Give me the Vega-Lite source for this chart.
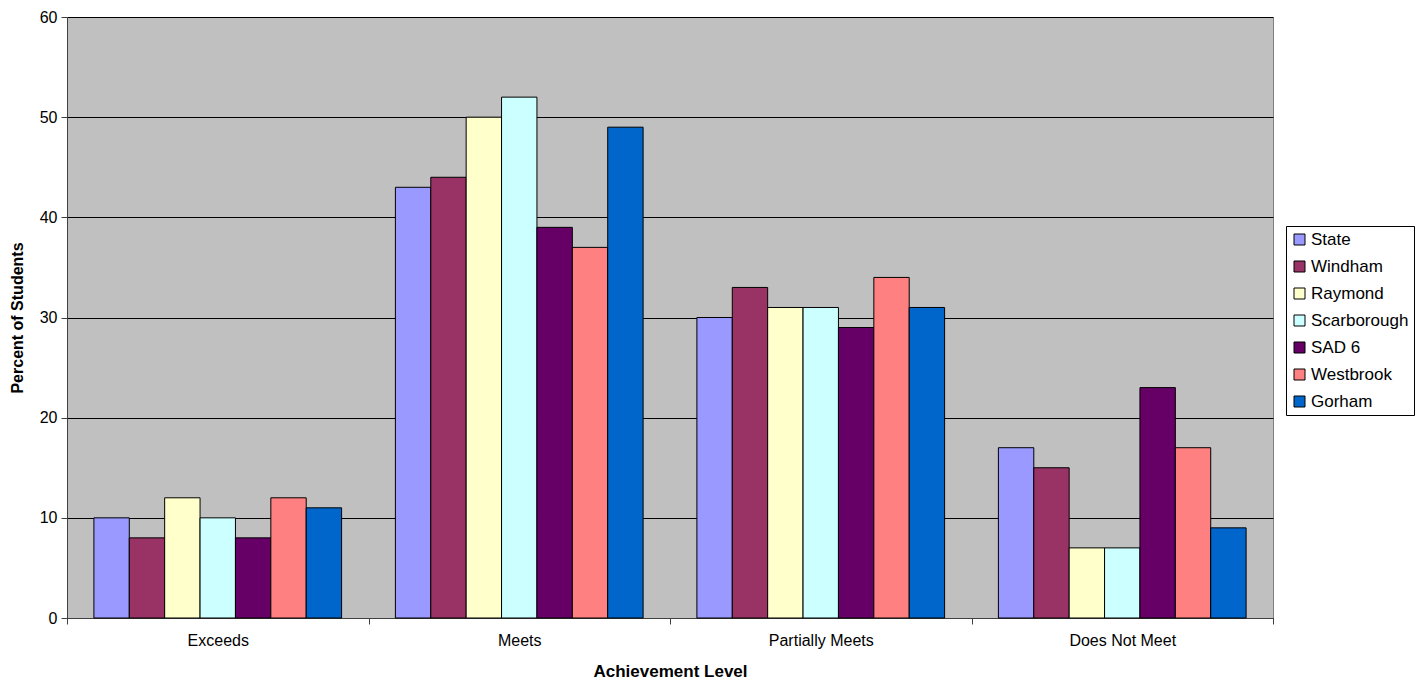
{
  "$schema": "https://vega.github.io/schema/vega-lite/v6.json",
  "width": 1206,
  "height": 601,
  "autosize": {"type": "none"},
  "padding": {"left": 67, "top": 17, "right": 155, "bottom": 67},
  "background": "white",
  "config": {
    "font": "Liberation Sans",
    "view": {"fill": "#C0C0C0", "stroke": "#808080", "strokeWidth": 1}
  },
  "data": {
    "values": [
      {"level": "Exceeds", "school": "State", "pct": 10},
      {"level": "Exceeds", "school": "Windham", "pct": 8},
      {"level": "Exceeds", "school": "Raymond", "pct": 12},
      {"level": "Exceeds", "school": "Scarborough", "pct": 10},
      {"level": "Exceeds", "school": "SAD 6", "pct": 8},
      {"level": "Exceeds", "school": "Westbrook", "pct": 12},
      {"level": "Exceeds", "school": "Gorham", "pct": 11},
      {"level": "Meets", "school": "State", "pct": 43},
      {"level": "Meets", "school": "Windham", "pct": 44},
      {"level": "Meets", "school": "Raymond", "pct": 50},
      {"level": "Meets", "school": "Scarborough", "pct": 52},
      {"level": "Meets", "school": "SAD 6", "pct": 39},
      {"level": "Meets", "school": "Westbrook", "pct": 37},
      {"level": "Meets", "school": "Gorham", "pct": 49},
      {"level": "Partially Meets", "school": "State", "pct": 30},
      {"level": "Partially Meets", "school": "Windham", "pct": 33},
      {"level": "Partially Meets", "school": "Raymond", "pct": 31},
      {"level": "Partially Meets", "school": "Scarborough", "pct": 31},
      {"level": "Partially Meets", "school": "SAD 6", "pct": 29},
      {"level": "Partially Meets", "school": "Westbrook", "pct": 34},
      {"level": "Partially Meets", "school": "Gorham", "pct": 31},
      {"level": "Does Not Meet", "school": "State", "pct": 17},
      {"level": "Does Not Meet", "school": "Windham", "pct": 15},
      {"level": "Does Not Meet", "school": "Raymond", "pct": 7},
      {"level": "Does Not Meet", "school": "Scarborough", "pct": 7},
      {"level": "Does Not Meet", "school": "SAD 6", "pct": 23},
      {"level": "Does Not Meet", "school": "Westbrook", "pct": 17},
      {"level": "Does Not Meet", "school": "Gorham", "pct": 9}
    ]
  },
  "mark": {"type": "bar", "stroke": "black", "strokeWidth": 1},
  "encoding": {
    "x": {
      "field": "level",
      "type": "nominal",
      "sort": ["Exceeds", "Meets", "Partially Meets", "Does Not Meet"],
      "scale": {"paddingInner": 0, "paddingOuter": 0},
      "axis": {
        "title": "Achievement Level",
        "labelAngle": 0,
        "tickBand": "extent",
        "labelFontSize": 16,
        "labelColor": "black",
        "labelPadding": 8,
        "titleFontSize": 17,
        "titleFontWeight": "bold",
        "titleColor": "black",
        "titlePadding": 15,
        "domainColor": "#404040",
        "tickColor": "#404040",
        "tickSize": 6
      }
    },
    "xOffset": {
      "field": "school",
      "sort": ["State", "Windham", "Raymond", "Scarborough", "SAD 6", "Westbrook", "Gorham"],
      "scale": {"paddingInner": 0, "paddingOuter": 0.76}
    },
    "y": {
      "field": "pct",
      "type": "quantitative",
      "scale": {"domain": [0, 60], "nice": false},
      "axis": {
        "title": "Percent of Students",
        "values": [0, 10, 20, 30, 40, 50, 60],
        "grid": true,
        "gridColor": "black",
        "gridOpacity": 1,
        "labelFontSize": 16,
        "labelColor": "black",
        "labelPadding": 4,
        "titleFontSize": 16,
        "titleFontWeight": "bold",
        "titleColor": "black",
        "titlePadding": 14,
        "domainColor": "#404040",
        "tickColor": "#404040",
        "tickSize": 6
      }
    },
    "color": {
      "field": "school",
      "type": "nominal",
      "scale": {
        "domain": ["State", "Windham", "Raymond", "Scarborough", "SAD 6", "Westbrook", "Gorham"],
        "range": ["#9999FF", "#993366", "#FFFFCC", "#CCFFFF", "#660066", "#FF8080", "#0066CC"]
      },
      "legend": {
        "title": null,
        "orient": "none",
        "legendX": 1219,
        "legendY": 209,
        "strokeColor": "black",
        "fillColor": "white",
        "padding": 5,
        "symbolType": "square",
        "symbolSize": 121,
        "symbolStrokeColor": "black",
        "symbolStrokeWidth": 1,
        "symbolOpacity": 1,
        "labelFontSize": 17,
        "labelOffset": 3,
        "labelColor": "black",
        "rowPadding": 9
      }
    }
  }
}
